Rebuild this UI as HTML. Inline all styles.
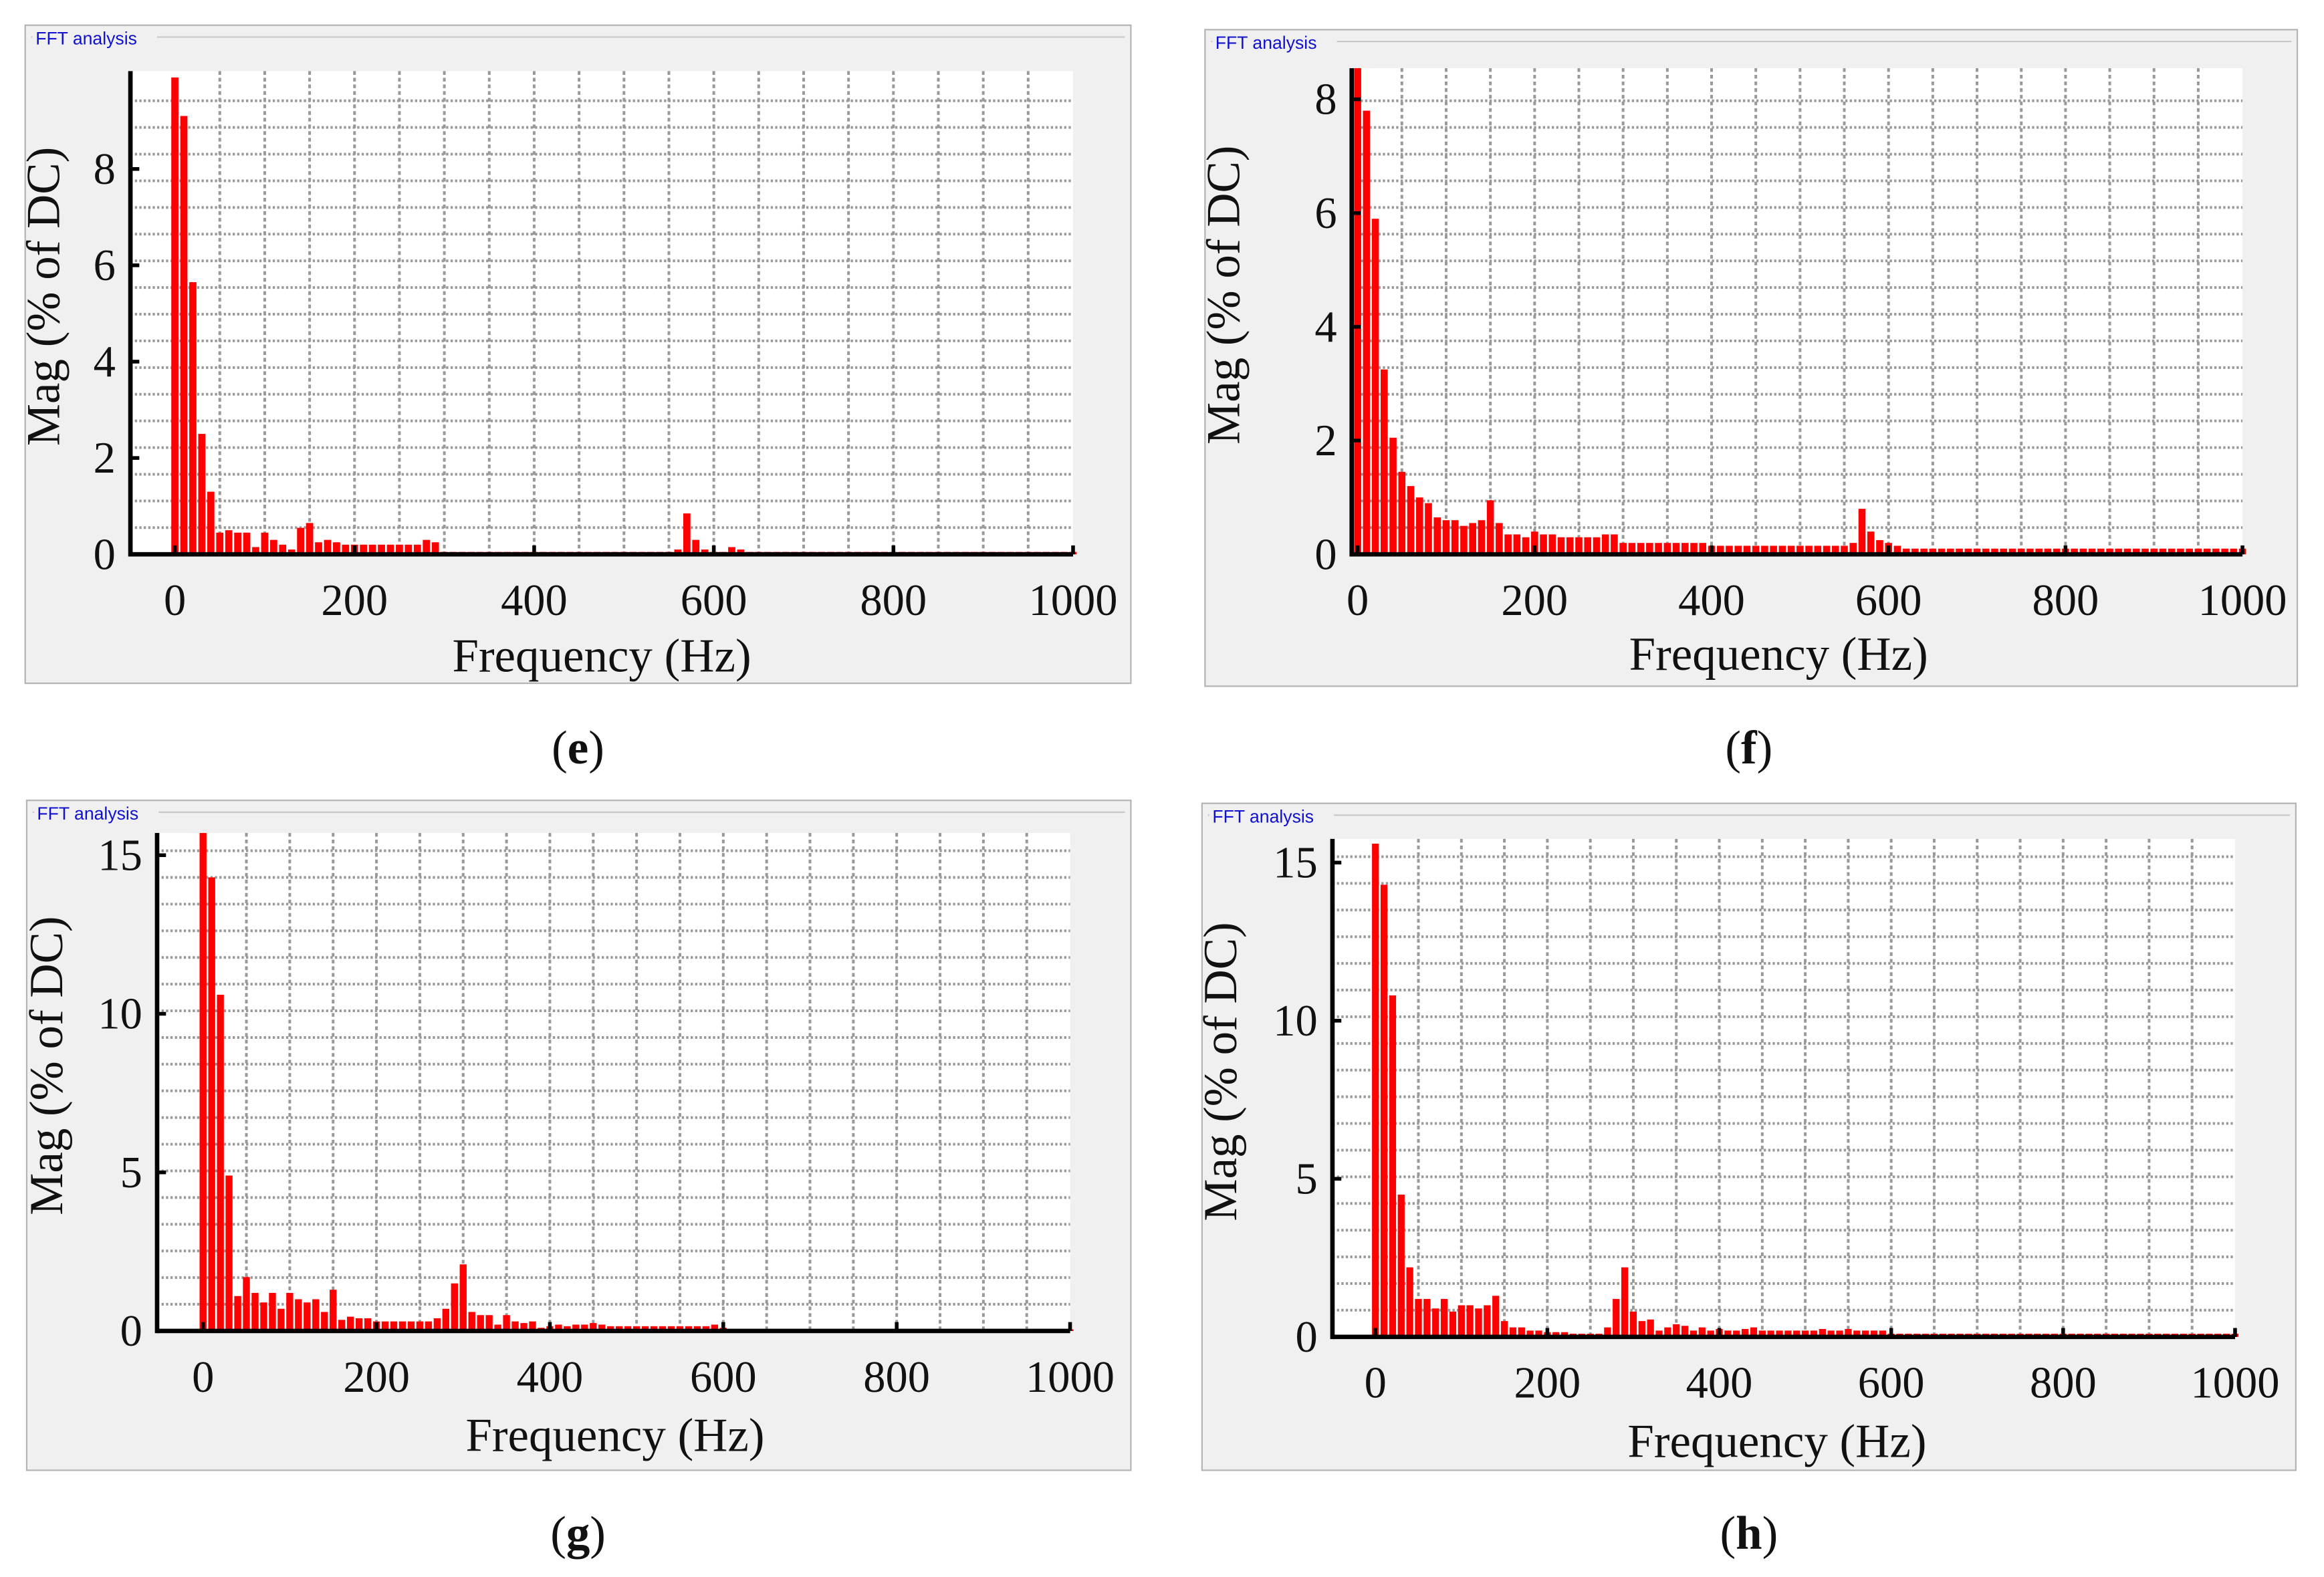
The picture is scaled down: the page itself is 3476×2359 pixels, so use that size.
<!DOCTYPE html>
<html><head><meta charset="utf-8"><style>
html,body{margin:0;padding:0;background:#fff;}
svg{display:block;}
text{font-family:"Liberation Serif",serif;fill:#111;}
</style></head><body>
<svg id="fig" width="3476" height="2359" viewBox="0 0 1568 1064" preserveAspectRatio="none" xmlns="http://www.w3.org/2000/svg"></svg>
<script>
// Frequency bins (Hz), 10 Hz spacing
const freqs = [];
for (let i = 0; i <= 100; i++) freqs.push(i * 10);
// Panel (e) magnitudes (% of DC)
const magE = [9.9,9.1,5.65,2.5,1.3,0.45,0.5,0.45,0.45,0.15,0.45,0.3,0.2,0.1,0.55,0.65,0.25,0.3,0.25,0.2,0.2,0.2,0.2,0.2,0.2,0.2,0.2,0.2,0.3,0.25,
0.05,0.05,0.05,0.05,0.05,0.05,0.05,0.05,0.05,0.05,0.05,0.05,0.05,0.05,0.05,0.05,0.05,0.05,0.05,0.05,0.05,0.05,0.05,0.05,0.05,0.05,0.1,0.85,0.3,0.1,
0.05,0.05,0.15,0.1,0.05,0.05,0.05,0.05,0.05,0.05,0.05,0.05,0.05,0.05,0.05,0.05,0.05,0.05,0.05,0.05,0.05,0.05,0.05,0.05,0.05,0.05,0.05,0.05,0.05,0.05,
0.05,0.05,0.05,0.05,0.05,0.05,0.05,0.05,0.05,0.05,0.05];
// Panel (f)
const magF = [8.55,7.8,5.9,3.25,2.05,1.45,1.2,1.0,0.9,0.65,0.6,0.6,0.5,0.55,0.6,0.95,0.55,0.35,0.35,0.3,0.4,0.35,0.35,0.3,0.3,0.3,0.3,0.3,0.35,0.35,
0.2,0.2,0.2,0.2,0.2,0.2,0.2,0.2,0.2,0.2,0.15,0.15,0.15,0.15,0.15,0.15,0.15,0.15,0.15,0.15,0.15,0.15,0.15,0.15,0.15,0.15,0.2,0.8,0.4,0.25,
0.2,0.15,0.1,0.1,0.1,0.1,0.1,0.1,0.1,0.1,0.1,0.1,0.1,0.1,0.1,0.1,0.1,0.1,0.1,0.1,0.1,0.1,0.1,0.1,0.1,0.1,0.1,0.1,0.1,0.1,
0.1,0.1,0.1,0.1,0.1,0.1,0.1,0.1,0.1,0.1,0.1];
// Panel (g)
const magG = [15.7,14.3,10.6,4.9,1.1,1.7,1.2,0.9,1.2,0.7,1.2,1.0,0.9,1.0,0.6,1.3,0.35,0.45,0.4,0.4,0.3,0.3,0.3,0.3,0.3,0.3,0.3,0.4,0.7,1.5,
2.1,0.6,0.5,0.5,0.2,0.5,0.3,0.25,0.3,0.1,0.15,0.2,0.15,0.2,0.2,0.25,0.2,0.15,0.15,0.15,0.15,0.15,0.15,0.15,0.15,0.15,0.15,0.15,0.15,0.2,
0.1,0.05,0.05,0.05,0.05,0.05,0.05,0.05,0.05,0.05,0.05,0.05,0.05,0.05,0.05,0.05,0.05,0.05,0.05,0.05,0.05,0.05,0.05,0.05,0.05,0.05,0.05,0.05,0.05,0.05,
0.05,0.05,0.05,0.05,0.05,0.05,0.05,0.05,0.05,0.05,0.05];
// Panel (h)
const magH = [15.6,14.3,10.8,4.5,2.2,1.2,1.2,0.9,1.2,0.8,1.0,1.0,0.9,1.0,1.3,0.5,0.3,0.3,0.2,0.2,0.15,0.15,0.15,0.1,0.1,0.1,0.1,0.3,1.2,2.2,
0.8,0.5,0.55,0.2,0.3,0.4,0.35,0.2,0.3,0.2,0.25,0.2,0.2,0.25,0.3,0.2,0.2,0.2,0.2,0.2,0.2,0.2,0.25,0.2,0.2,0.25,0.2,0.2,0.2,0.2,
0.1,0.1,0.1,0.1,0.1,0.1,0.1,0.1,0.1,0.1,0.1,0.1,0.1,0.1,0.1,0.1,0.1,0.1,0.1,0.1,0.1,0.1,0.1,0.1,0.1,0.1,0.1,0.1,0.1,0.1,
0.1,0.1,0.1,0.1,0.1,0.1,0.1,0.1,0.1,0.1,0.1];
const xTicks = [0,200,400,600,800,1000];
const yTicksEF = [0,2,4,6,8];
const yTicksGH = [0,5,10,15];

const NS = "http://www.w3.org/2000/svg";
const svg = document.getElementById('fig');
function el(tag, attrs, parent, txt) {
  const e = document.createElementNS(NS, tag);
  for (const k in attrs) e.setAttribute(k, attrs[k]);
  if (txt !== undefined) e.textContent = txt;
  (parent || svg).appendChild(e);
  return e;
}

const panels = [
  {id:'e', data:magE, yt:yTicksEF, frame:[17,17,746,444], plot:[88,48,724,374], x0:118, x1:724, yMax:(374-48)/((374-114)/8), tlx:406, tly:453, lbl:[390,505], ylx:40},
  {id:'f', data:magF, yt:yTicksEF, frame:[813,20,737,443], plot:[912,46,1513,374], x0:916, x1:1513, yMax:(374-46)/((374-67)/8), tlx:1200, tly:452, lbl:[1180,505], ylx:836},
  {id:'g', data:magG, yt:yTicksGH, frame:[18,540,745,452], plot:[106,562,722,898], x0:137, x1:722, yMax:(898-562)/((898-577)/15), tlx:415, tly:979, lbl:[390,1035], ylx:42},
  {id:'h', data:magH, yt:yTicksGH, frame:[811,542,738,450], plot:[899,566,1508,902], x0:928, x1:1508, yMax:(902-566)/((902-582)/15), tlx:1199, tly:983, lbl:[1180,1035], ylx:834}
];

panels.forEach(p => {
  const g = el('g', {});
  
  
  const [fx,fy,fw,fh] = p.frame;
  const fr = el('rect', {x:fx,y:fy,width:fw,height:fh,fill:'#f0f0f0',stroke:'#b4b4b4','stroke-width':1}, g);
  
  
  el('line', {x1:fx+4,y1:fy+8,x2:fx+fw-4,y2:fy+8,stroke:'#c8c8c8','stroke-width':1}, g);
  el('rect', {x:fx+5,y:fy+1,width:84,height:14,fill:'#f0f0f0'}, g);
  const tt = el('text', {x:fx+7,y:fy+13,'font-size':12,style:'font-family:"Liberation Sans",sans-serif;fill:#1010d0'}, g, 'FFT analysis');
  
  
  const [px0,py0,px1,py1] = p.plot;
  el('rect', {x:px0,y:py0,width:px1-px0,height:py1-py0,fill:'#fff'}, g);
  const xs = f => p.x0 + (f/1000)*(p.x1-p.x0);
  const ys = v => py1 - (v/p.yMax)*(py1-py0);
  for (let f = 50; xs(f) < px1; f += 50) {
    el('line', {x1:xs(f),y1:py0,x2:xs(f),y2:py1,stroke:'#999','stroke-width':1.8,'stroke-dasharray':'2.5,2'}, g);
  }
  for (let y = py1 - 18; y > py0 + 4; y -= 18) {
    el('line', {x1:px0,y1:y,x2:px1,y2:y,stroke:'#999','stroke-width':1.8,'stroke-dasharray':'1.5,1.5'}, g);
  }
  const bw = (p.x1-p.x0)/1000*8;
  freqs.forEach((f,i) => {
    const v = Math.min(p.data[i], p.yMax);
    const b = el('rect', {x:xs(f)-bw/2,y:ys(v),width:bw,height:py1-ys(v),fill:'#ff0000'}, g);
    
    
  });
  el('line', {x1:px0,y1:py0,x2:px0,y2:py1+1.5,stroke:'#000','stroke-width':3}, g);
  el('line', {x1:px0,y1:py1,x2:px1,y2:py1,stroke:'#000','stroke-width':3}, g);
  xTicks.forEach(t => {
    el('line', {x1:xs(t),y1:py1,x2:xs(t),y2:py1-6,stroke:'#000','stroke-width':2.5}, g);
    const lt = el('text', {x:xs(t),y:py1+41,'font-size':30,'text-anchor':'middle'}, g, String(t));
    
    
  });
  p.yt.forEach(t => {
    el('line', {x1:px0,y1:ys(t),x2:px0+6,y2:ys(t),stroke:'#000','stroke-width':2.5}, g);
    const lt = el('text', {x:px0-10,y:ys(t)+10,'font-size':30,'text-anchor':'end'}, g, String(t));
    
    
  });
  const xt = el('text', {x:p.tlx,y:p.tly,'font-size':32,'text-anchor':'middle'}, g, 'Frequency (Hz)');
  
  
  const cy = (py0+py1)/2;
  const yt = el('text', {x:p.ylx+11,y:cy,'font-size':32,'text-anchor':'middle',transform:`rotate(-90 ${p.ylx} ${cy})`}, g, 'Mag (% of DC)');
  
  
  const cap = el('text', {x:p.lbl[0],y:p.lbl[1]+10,'font-size':32,'text-anchor':'middle'}, svg);
  
  
  el('tspan', {}, cap, '(');
  el('tspan', {'font-weight':'bold'}, cap, p.id);
  el('tspan', {}, cap, ')');
});
</script>
</body></html>
